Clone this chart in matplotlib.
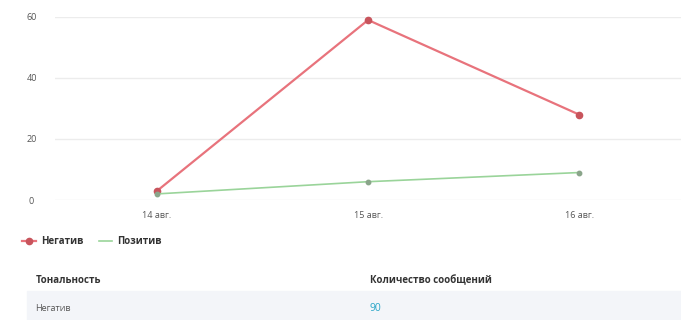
import matplotlib.pyplot as plt
from matplotlib.patches import Rectangle
from matplotlib.lines import Line2D

# Данные
dates = ["14 авг.", "15 авг.", "16 авг."]
negative = [3, 59, 28]
positive = [2, 6, 9]
y_ticks = [0, 20, 40, 60]
table_header = ["Тональность", "Количество сообщений"]
table_row = ["Негатив", "90"]

plt.rcParams['font.family'] = ['Open Sans', 'DejaVu Sans']

fig = plt.figure(figsize=(6.81, 3.2), dpi=100)
ax = fig.add_axes([0.081, 0.375, 0.919, 0.572])

x = list(range(len(dates)))
ax.plot(x, negative, color="#e8737c", lw=1.6, marker="o", ms=4.5,
        mfc="#c8545c", mec="#c8545c", clip_on=False, zorder=3)
ax.plot(x, positive, color="#9ad49a", lw=1.2, marker="o", ms=3.2,
        mfc="#8aa58a", mec="#8aa58a", clip_on=False, zorder=3)

ax.set_xlim(-0.483, 2.483)
ax.set_ylim(0, 60)
ax.set_yticks(y_ticks)
ax.set_yticklabels([str(v) for v in y_ticks])
ax.set_xticks(x)
ax.set_xticklabels(dates)
ax.tick_params(axis="both", length=0, labelsize=6.5, colors="#555555")
ax.tick_params(axis="y", pad=17)
ax.tick_params(axis="x", pad=8)
for lab in ax.get_yticklabels():
    lab.set_horizontalalignment("center")
ax.grid(axis="y", color="#ececec", lw=1)
ax.set_axisbelow(True)
for s in ax.spines.values():
    s.set_visible(False)

# Легенда
handles = [
    Line2D([], [], color="#e8737c", marker="o", ms=4.5, mfc="#c8545c", mec="#c8545c", lw=1.6),
    Line2D([], [], color="#9ad49a", lw=1.2),
]
fig.legend(handles, ["Негатив", "Позитив"], loc="center left",
           bbox_to_anchor=(0.02, 0.245), ncol=2, frameon=False,
           handlelength=1.4, columnspacing=1.6, handletextpad=0.5,
           labelcolor="#333333", prop={"weight": "bold", "size": 7})

# Таблица
fig.patches.append(Rectangle((0.04, 0.0), 0.96, 0.09, transform=fig.transFigure,
                             color="#f3f5f9", zorder=0))
fig.text(0.052, 0.122, table_header[0], fontsize=7, fontweight="bold", color="#333333", va="center")
fig.text(0.543, 0.122, table_header[1], fontsize=7, fontweight="bold", color="#333333", va="center")
fig.text(0.052, 0.037, table_row[0], fontsize=6.5, color="#555555", va="center")
fig.text(0.543, 0.037, table_row[1], fontsize=7.5, color="#2aa6c8", va="center")

fig.savefig("out.png", dpi=100)
